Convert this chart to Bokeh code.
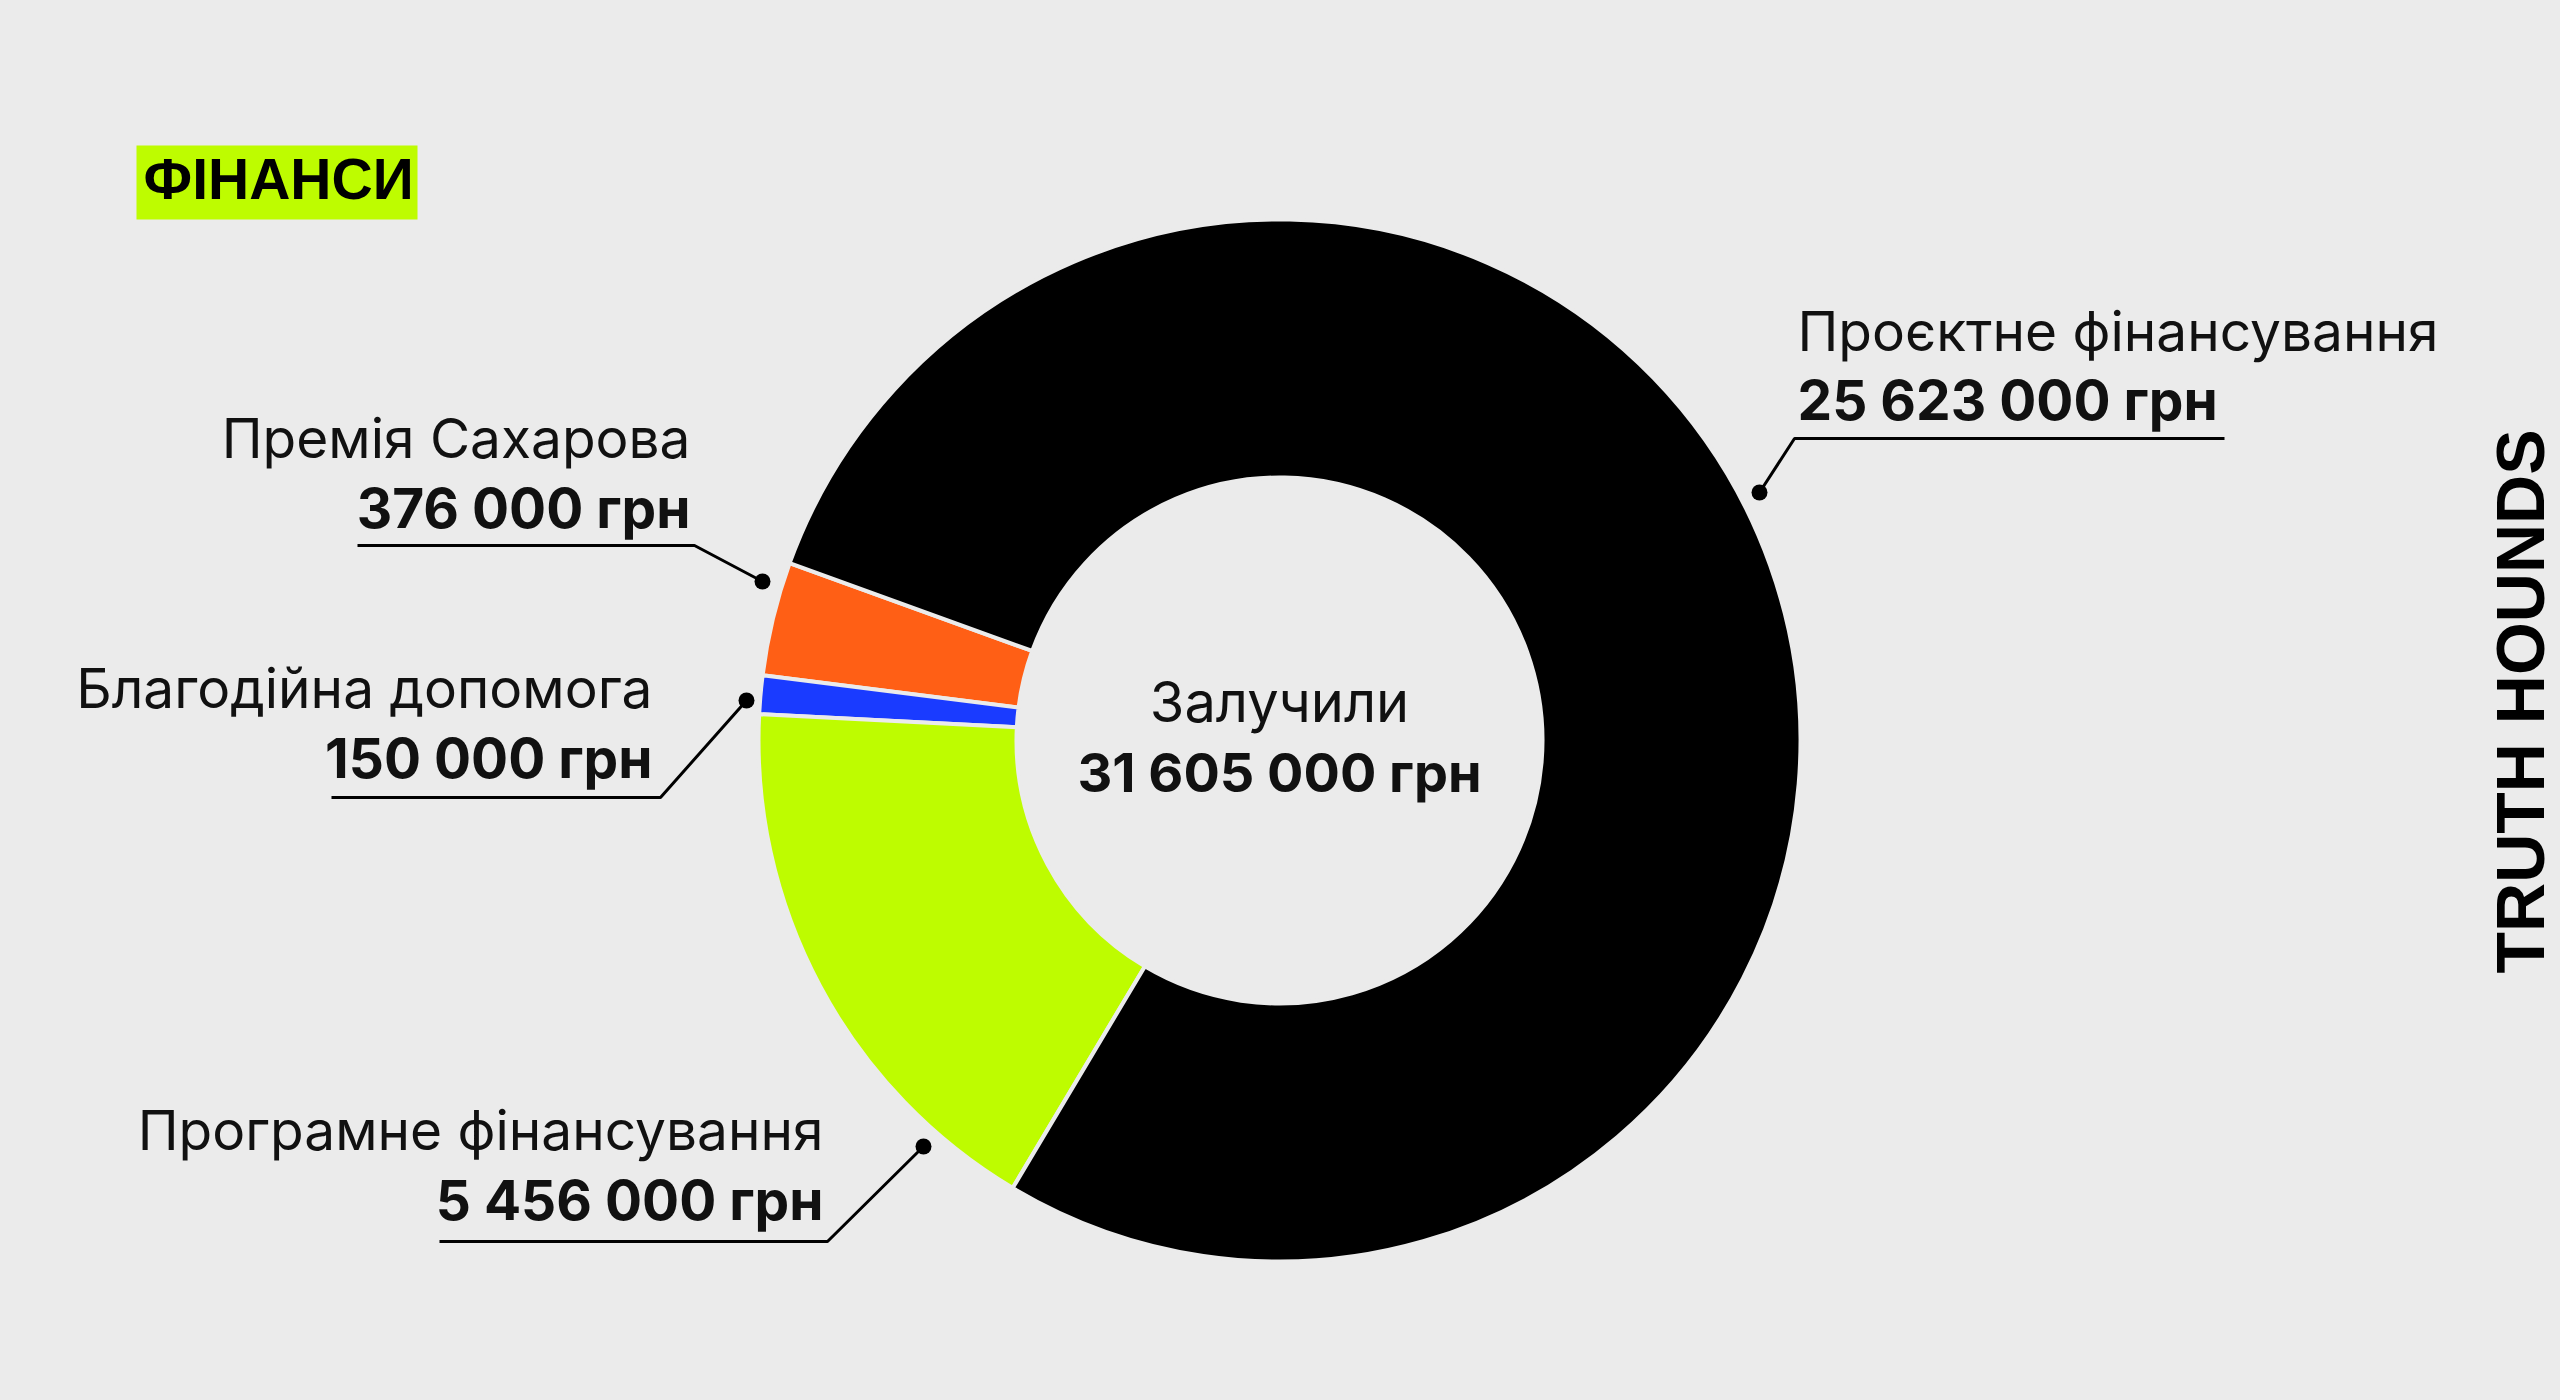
import math
from bokeh.plotting import figure
from bokeh.models import Range1d, Label, BoxAnnotation, ColumnDataSource
from bokeh.embed import file_html
from bokeh.resources import INLINE

# ---- data ----
categories = ["Премія Сахарова", "Благодійна допомога", "Програмне фінансування", "Проєктне фінансування"]
amounts = [376000, 150000, 5456000, 25623000]
amount_labels = ["376 000 грн", "150 000 грн", "5 456 000 грн", "25 623 000 грн"]
# slice sizes as drawn in the picture (degrees); small items are enlarged in the original
slice_degrees = [12.7, 4.3, 62.1, 280.9]
colors = ["#FF5F15", "#1A3BFF", "#BEFC00", "#000000"]
total_label = "31 605 000 грн"
total_title = "Залучили"
title = "ФІНАНСИ"
brand = "TRUTH HOUNDS"

BG = "#EBEBEB"
W, H = 2560, 1400
OFF = 0.37  # empirical baseline correction (fraction of font size)

def Y(sy):
    # screen y (page) -> data y
    return H - sy

def TY(baseline, fs):
    return Y(baseline - OFF * fs)

p = figure(width=W, height=H, output_backend="svg", toolbar_location=None,
           x_range=Range1d(0, W), y_range=Range1d(0, H),
           min_border=0)
p.axis.visible = False
p.grid.visible = False
p.outline_line_color = None
p.background_fill_color = BG
p.border_fill_color = BG

# ---- donut ----
cx, cy = 1279, Y(740)
start0 = 160.1
starts, ends = [], []
a = start0
for d in slice_degrees:
    starts.append(math.radians(a))
    a += d
    ends.append(math.radians(a))
src = ColumnDataSource(dict(start=starts, end=ends, color=colors, cat=categories, amt=amounts))
p.annular_wedge(x=cx, y=cy, inner_radius=263, outer_radius=521,
                start_angle="start", end_angle="end", direction="anticlock",
                fill_color="color", line_color=BG, line_width=4, source=src)

# ---- title box ----
p.add_layout(BoxAnnotation(left=136, right=417, top=Y(145), bottom=Y(219),
                           fill_color="#BEFC00", fill_alpha=1, line_color=None, level="underlay"))
p.add_layout(Label(x=143, y=TY(200, 57), text=title, text_font="Liberation Sans",
                   text_font_style="bold", text_font_size="57px", text_color="#000000",
                   text_baseline="alphabetic", text_align="left"))

# ---- center text ----
p.add_layout(Label(x=cx, y=TY(722, 55), text=total_title, text_font="Inter",
                   text_font_size="56px", text_color="#111111",
                   text_baseline="alphabetic", text_align="center"))
p.add_layout(Label(x=cx, y=TY(792, 54), text=total_label, text_font="Inter",
                   text_font_style="bold", text_font_size="54px", text_color="#111111",
                   text_baseline="alphabetic", text_align="center"))

# ---- callouts ----
# (index, name_baseline, amount_baseline, text_x, align, leader points [(x,y) screen])
callouts = [
    (0, 458, 528, 690, "right", [(357, 545), (694, 545), (762, 581)]),
    (1, 708, 778, 652, "right", [(331, 797), (660, 797), (746, 700)]),
    (2, 1150, 1220, 823, "right", [(439, 1241), (827, 1241), (923, 1146)]),
    (3, 351, 420, 1797, "left", [(2224, 438), (1794, 438), (1759, 492)]),
]
for idx, nb, ab, tx, al, pts in callouts:
    p.add_layout(Label(x=tx, y=TY(nb, 55), text=categories[idx], text_font="Inter",
                       text_font_size="55px", text_color="#111111",
                       text_baseline="alphabetic", text_align=al))
    p.add_layout(Label(x=tx, y=TY(ab, 55), text=amount_labels[idx], text_font="Inter",
                       text_font_style="bold", text_font_size="55px", text_color="#111111",
                       text_baseline="alphabetic", text_align=al))
    p.line([q[0] for q in pts], [Y(q[1]) for q in pts], line_color="#000000", line_width=3)
    p.scatter([pts[-1][0]], [Y(pts[-1][1])], size=16, marker="circle",
              fill_color="#000000", line_color=None)

# ---- brand (rotated: baseline correction acts along x) ----
BFS = 68
p.add_layout(Label(x=2545 - OFF * BFS, y=Y(701), text=brand, angle=math.pi / 2,
                   text_font="Liberation Sans", text_font_style="bold",
                   text_font_size=f"{BFS}px", text_color="#000000",
                   text_baseline="alphabetic", text_align="center"))

html = file_html(p, INLINE)
html = html.replace("</head>", "<style>html,body{background:#EBEBEB;}</style></head>", 1)
open("out.html", "w").write(html)
